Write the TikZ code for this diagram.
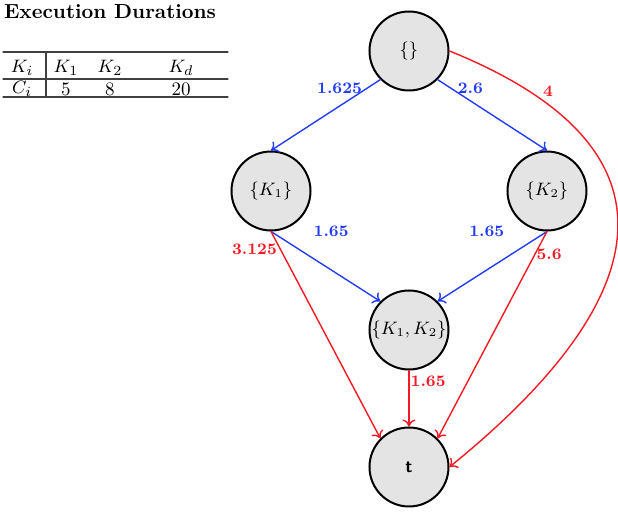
\documentclass[tikz,border=0pt]{standalone}
\usepackage{amsmath,amssymb}
\usepackage{tikz}
\usetikzlibrary{arrows.meta,positioning}

\definecolor{durblue}{RGB}{35,60,245}
\definecolor{durred}{RGB}{245,25,35}
\definecolor{statefill}{RGB}{228,228,228}

\tikzset{
    state/.style={circle,draw=black,fill=statefill,line width=1pt,minimum size=39.5pt,inner sep=0pt,font=\small},
    cheap/.style={->,durblue,line width=0.7pt},
    costly/.style={->,durred,line width=0.7pt},
    cost/.style={font=\footnotesize\bfseries},
    cell/.style={font=\fontsize{9.5}{11}\selectfont,inner sep=0pt},
    rule/.style={line width=0.6pt,black!75},
}

\begin{document}
\begin{tikzpicture}[x=0.5pt,y=0.5pt,line cap=round,>={To[length=3.5pt,width=6.5pt]}]
    \useasboundingbox (0,0) rectangle (618,-512);

    % --- Execution durations ---
    \node[font=\fontsize{10.2}{12}\bfseries\selectfont] (title) at (110,-12) {Execution Durations};

    \node[cell] (ki) at (22,-68) {$K_i$};
    \node[cell] (k1cost) at (66,-68) {$K_1$};
    \node[cell] (k2cost) at (110,-68) {$K_2$};
    \node[cell] (kdcost) at (181,-68) {$K_d$};
    \node[cell] (ci) at (22,-89) {$C_i$};
    \node[cell] (c1) at (66,-89) {5};
    \node[cell] (c2) at (110,-89) {8};
    \node[cell] (cd) at (181,-89) {20};

    \draw[rule] (3,-52) -- (228,-52);
    \draw[rule] (3,-79) -- (228,-79);
    \draw[rule] (3,-97) -- (228,-97);
    \draw[rule] (46,-52) -- (46,-97);

    % --- States ---
    \node[state] (root) at (409,-51) {$\{\}$};
    \node[state] (k1) at (271,-191) {$\{K_1\}$};
    \node[state] (k2) at (547,-191) {$\{K_2\}$};
    \node[state] (k12) at (409,-330) {$\{K_1,K_2\}$};
    \node[state,font=\sffamily\bfseries\small] (t) at (409,-467) {t};

    % Blue edges
    \draw[cheap] (root.south west) -- (k1.north) node[cost,pos=0.3,above,xshift=-4pt] {1.625};
    \draw[cheap] (root.south east) -- (k2.north) node[cost,pos=0.3,above] {2.6};
    \draw[cheap] (k1.south) -- (k12.north west) node[cost,pos=0.55,above=12.7pt] {1.65};
    \draw[cheap] (k2.south) -- (k12.north east) node[cost,pos=0.55,above=12.7pt] {1.65};

    % Red edges
    \draw[costly] (k1.south) -- (t.north west) node[cost,pos=0.087,left,inner sep=1.5pt] {3.125};
    \draw[costly] (k2.south) -- (t.north east) node[cost,pos=0.11,right,inner sep=0.5pt] {5.6};
    \draw[costly] (k12.south) -- (t.north) node[cost,pos=0.19,right,inner sep=0.5pt] {1.65};
    \draw[costly] (root.east) to[out=-22,in=39,looseness=1.62] node[cost,pos=0.15,above right,inner sep=1pt] {4} (t.east);
\end{tikzpicture}
\end{document}
